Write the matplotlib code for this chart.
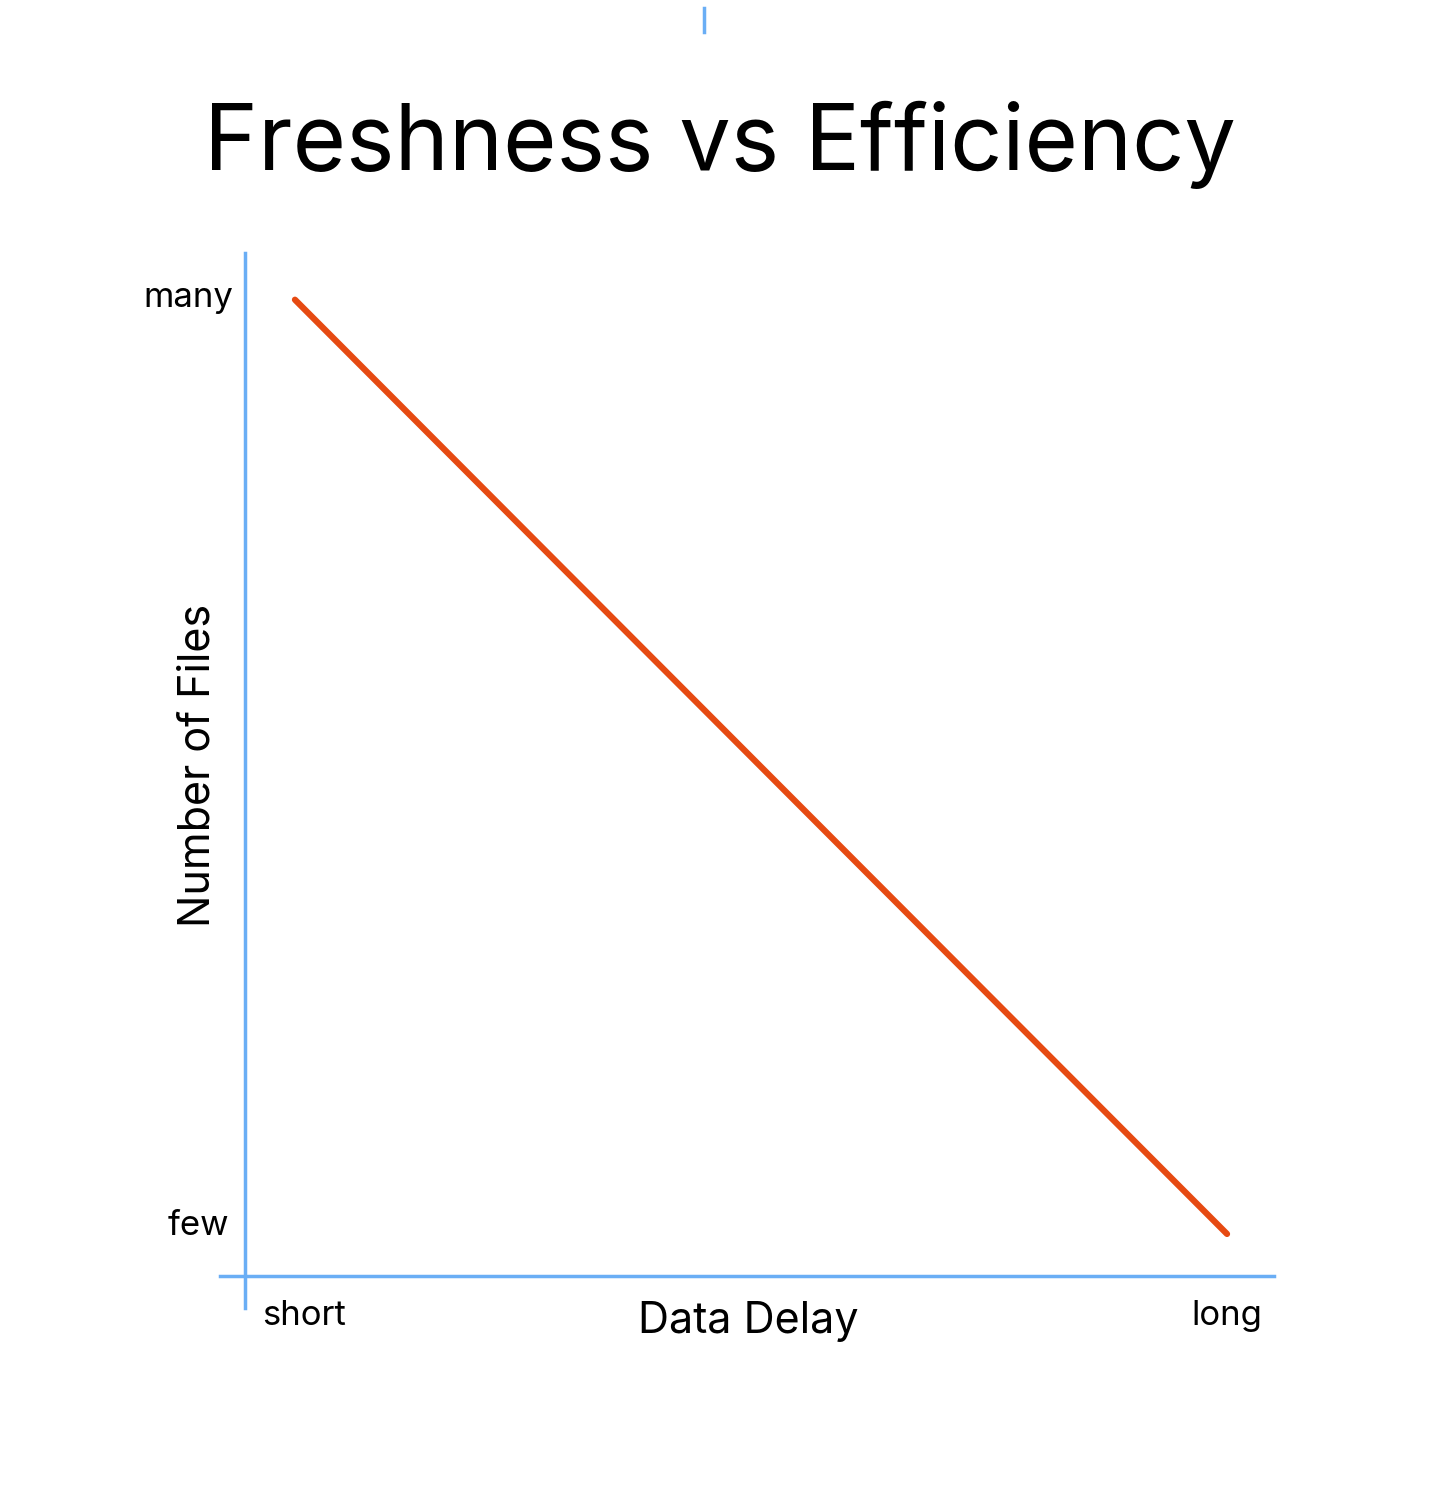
import matplotlib.pyplot as plt
from matplotlib.lines import Line2D

plt.rcParams['font.family'] = ['Inter', 'DejaVu Sans']

W, H = 1456, 1491
delay = [0, 1]
files = [1, 0]
x_labels = ['short', 'long']
y_labels = ['many', 'few']
title = 'Freshness vs Efficiency'
blue = '#6aaef5'
orange = '#e64a12'

fig = plt.figure(figsize=(W / 100, H / 100), dpi=100)
# axes box in pixels: left 245, right 1274, top 253, bottom 1276
ax = fig.add_axes([245 / W, 1 - 1276 / H, (1274 - 245) / W, (1276 - 253) / H])
ax.plot(delay, files, color=orange, lw=4.5, solid_capstyle='round')
ax.set_xlim(-0.0536, 1.0504)
ax.set_ylim(-0.045, 1.050)
ax.axis('off')

# blue axis lines, a bit past the corner
fig.add_artist(Line2D([220 / W, 1274 / W], [1 - 1276 / H] * 2, color=blue, lw=2.5))
fig.add_artist(Line2D([245 / W] * 2, [1 - 253 / H, 1 - 1308 / H], color=blue, lw=2.5))
fig.add_artist(Line2D([704 / W] * 2, [1 - 8 / H, 1 - 32 / H], color=blue, lw=2.5))

def px(x, y):
    return x / W, 1 - y / H

fig.text(*px(720, 145), title, fontsize=66, ha='center', va='center')
fig.text(*px(233, 298), y_labels[0], fontsize=25, ha='right', va='center')
fig.text(*px(229, 1226), y_labels[1], fontsize=25, ha='right', va='center')
fig.text(*px(262, 1316), x_labels[0], fontsize=25, ha='left', va='center')
fig.text(*px(1262, 1316), x_labels[1], fontsize=25, ha='right', va='center')
fig.text(*px(748, 1322), 'Data Delay', fontsize=31, ha='center', va='center')
fig.text(*px(198, 765), 'Number of Files', fontsize=31, ha='center', va='center',
         rotation=90)

fig.savefig('out.png', dpi=100, facecolor='white')
